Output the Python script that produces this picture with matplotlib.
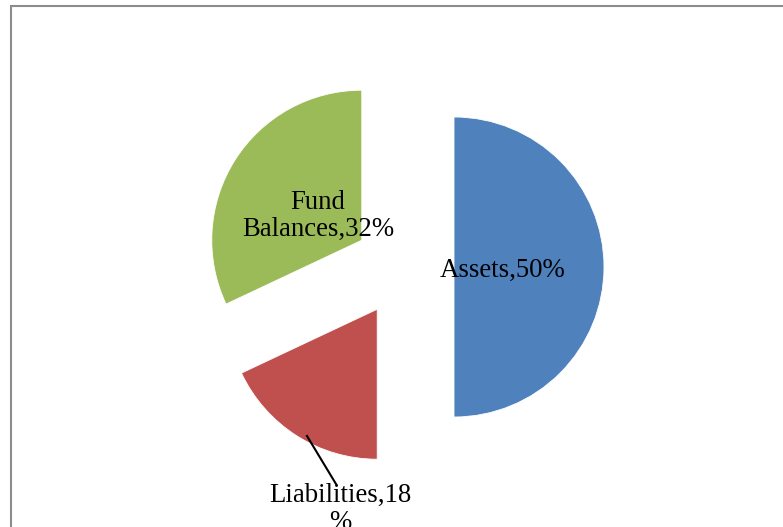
import matplotlib.pyplot as plt
import matplotlib.patches as patches

# data
labels = ["Assets", "Liabilities", "Fund Balances"]
shares = [50, 18, 32]
colors = ["#4F81BD", "#C0504D", "#9BBB59"]

W, H = 783, 527
fig = plt.figure(figsize=(W / 100, H / 100), dpi=100)
ax = fig.add_axes([0, 0, 1, 1])

# pie in pixel-like units (y goes up)
wedges, _ = ax.pie(shares, explode=[50, 50, 50], startangle=90, counterclock=False,
                   colors=colors, radius=150, center=(404, H - 267),
                   wedgeprops=dict(edgecolor="white", linewidth=0.6))

ax.set_xlim(0, W)
ax.set_ylim(0, H)
ax.set_aspect("equal")
ax.axis("off")

font = dict(family="Liberation Serif", fontsize=19.3, color="black")

ax.text(503, H - 270, "%s,%d%%" % (labels[0], shares[0]), ha="center", va="center", **font)
ax.text(318, H - 216, "Fund\n%s,%d%%" % (labels[2].split()[1], shares[2]),
        ha="center", va="center", linespacing=1.1, **font)
ax.text(340, H - 483, "%s,%d\n%%" % (labels[1], shares[1]), ha="center", va="top",
        linespacing=1.1, **font)

# leader line for the liabilities label
ax.plot([307, 336], [H - 436, H - 484], color="black", lw=1.5)

# frame around the chart area
frame = patches.Rectangle((10.5, -20), W, H - 5.5 + 20, fill=False,
                          edgecolor="#8c8c8c", linewidth=1.5, clip_on=False)
ax.add_patch(frame)

fig.savefig("out.png", dpi=100)
